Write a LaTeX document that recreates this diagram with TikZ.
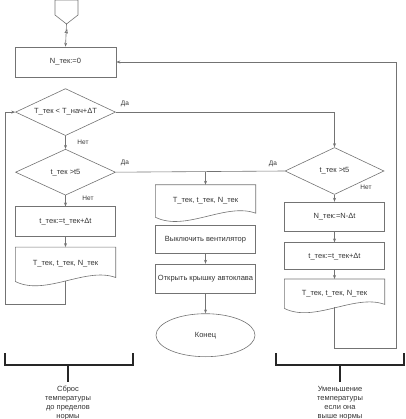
\documentclass[tikz,border=0pt]{standalone}
\usepackage{fontspec}
\setmainfont{Liberation Sans}
\usetikzlibrary{arrows.meta, positioning, calc, shapes.geometric}

\begin{document}
\begin{tikzpicture}[x=1pt, y=-1pt, >={Stealth[length=4pt, width=3pt]},
        every node/.style={font=\fontsize{7.5}{9}\selectfont, text=black!80},
        line/.style={draw=black!55, line width=0.6pt},
        proc/.style={rectangle, line, minimum width=100pt, minimum height=29pt, inner sep=0pt},
        dec/.style={diamond, aspect=2.2, line, minimum width=100pt, minimum height=46pt, inner sep=0pt},
        docu/.style={rectangle, minimum width=100pt, inner sep=0pt},
        term/.style={ellipse, line, minimum width=99pt, minimum height=43pt},
        lbl/.style={font=\fontsize{6.5}{8}\selectfont, inner sep=0pt},
        brack/.style={draw=black!85, line width=1.1pt}]
        \useasboundingbox (0,0) rectangle (405,419);

        % Start
        \draw[line] (55,0) -- (78,0) -- (78,15) -- (66.5,24) -- (55,15) -- cycle;
        \coordinate (st) at (66.5,24);

        % Left column
        \node[proc, minimum width=101pt, minimum height=30pt] (init) at (65.5,62) {N\_тек:=0};
        \node[dec, minimum height=47pt, below=11pt of init] (c1) {T\_тек < T\_нач+ΔT};
        \node[dec, below=13pt of c1] (c2) {t\_тек >t5};
        \node[proc, below=11pt of c2] (upd1) {t\_тек:=t\_тек+Δt};
        \node[docu, minimum height=33pt, below=11pt of upd1] (out1) {T\_тек, t\_тек, N\_тек};

        % Middle column
        \node[docu, minimum height=31pt] (out2) at (205.5,200.5) {T\_тек, t\_тек, N\_тек};
        \node[proc, minimum height=28pt, below=9pt of out2] (fan) {Выключить вентилятор};
        \node[proc, below=10pt of fan] (lid) {Открыть крышку автоклава};
        \node[term, below=20pt of lid] (stop) {Конец};

        % Right column
        \node[dec, minimum width=99pt, minimum height=47pt] (c3) at (334.5,171) {t\_тек >t5};
        \node[proc, below=7pt of c3] (decN) {N\_тек:=N-Δt};
        \node[proc, minimum height=27pt, below=11pt of decN] (upd2) {t\_тек:=t\_тек+Δt};
        \node[docu, minimum height=28pt, below=9pt of upd2] (out3) {T\_тек, t\_тек, N\_тек};

        % Document outlines
        \foreach \d in {out1, out2, out3}
            \draw[line] (\d.north west) -- (\d.north east) -- ([yshift=3pt]\d.south east)
                .. controls ([xshift=-30pt, yshift=14pt]\d.south east) and ([xshift=30pt, yshift=-16pt]\d.south west)
                .. ([yshift=-1pt]\d.south west) -- cycle;

        % Labels
        \node[lbl, fill=white, inner sep=0.5pt] (four) at (66.5,32) {4};
        \node[lbl] (y1) at (125,104) {Да};
        \node[lbl] (n1) at (83,142) {Нет};
        \node[lbl] (y2) at (125,163) {Да};
        \node[lbl] (n2) at (88,198) {Нет};
        \node[lbl] (y3) at (273,164) {Да};
        \node[lbl] (n3) at (366,187) {Нет};

        \coordinate (lb) at (5,304);
        \coordinate (rb) at (396,348);
        \coordinate (j) at (c2.east -| out2.north);

        \draw[line, ->] (st) -- (init.north);
        \draw[line, ->] (c1.south) -- (c2.north);
        \draw[line, ->] (c2.south) -- (upd1.north);
        \draw[line, ->] (upd1.south) -- (out1.north);
        \draw[line, ->] (out1.south) |- (lb) |- (c1.west);

        \draw[line, ->] (c1.east) -| (c3.north);
        \draw[line] (c2.east) -- (c3.west);
        \draw[line, ->] (j) -- (out2.north);
        \draw[line, ->] (fan.south) -- (lid.north);
        \draw[line, ->] (lid.south) -- (stop.north);

        \draw[line, ->] (c3.south) -- (decN.north);
        \draw[line, ->] (decN.south) -- (upd2.north);
        \draw[line, ->] (upd2.south) -- (out3.north);
        \draw[line, ->] (out3.south) |- (rb) |- (init.east);

        % Brackets
        \draw[brack] (5,353) -- (5,365) -- (133,365) -- (133,353);
        \draw[brack] (276,353) -- (276,365) -- (404,365) -- (404,353);
        \coordinate (bl) at (68,365);
        \coordinate (br) at (340,365);
        \node[align=center, anchor=north, inner sep=0pt] (noteL) at (68,386) {Сброс\\температуры\\до пределов\\нормы};
        \node[align=center, anchor=north, inner sep=0pt] (noteR) at (340,386) {Уменьшение\\температуры\\если она\\выше нормы};
        \draw[brack] (bl) -- ++(0,17);
        \draw[brack] (br) -- ++(0,17);
    \end{tikzpicture}
\end{document}
